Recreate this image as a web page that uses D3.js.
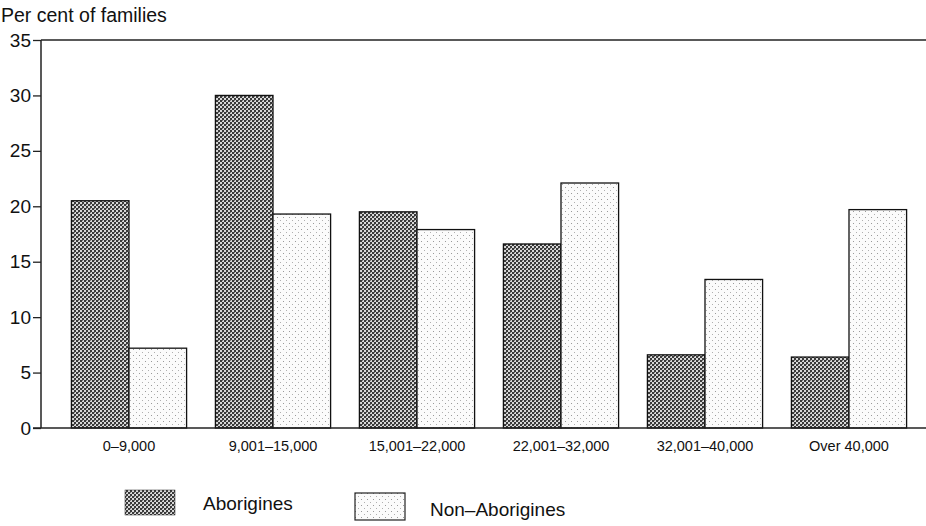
<!DOCTYPE html>
<html><head><meta charset="utf-8">
<script src="https://cdn.jsdelivr.net/npm/d3@7"></script>
<style>body{margin:0;background:#fff}svg{display:block}text{font-family:"Liberation Sans",Arial,sans-serif;fill:#111}</style>
</head><body><svg id="c" width="926" height="526"></svg>
<script>
const categories = ["0–9,000","9,001–15,000","15,001–22,000","22,001–32,000","32,001–40,000","Over 40,000"];
const aborigines = [20.5, 30.0, 19.5, 16.6, 6.6, 6.4];
const nonAborigines = [7.2, 19.3, 17.9, 22.1, 13.4, 19.7];
const seriesNames = ["Aborigines","Non–Aborigines"];
const yTicks = [0,5,10,15,20,25,30,35];

const svg = d3.select("#c");
const defs = svg.append("defs");
const p1 = defs.append("pattern").attr("id","pA").attr("width",4).attr("height",4).attr("patternUnits","userSpaceOnUse");
p1.append("rect").attr("width",4).attr("height",4).attr("fill","#d8d8d8");
p1.append("rect").attr("width",2).attr("height",2).attr("fill","#3a3a3a");
p1.append("rect").attr("x",2).attr("y",2).attr("width",2).attr("height",2).attr("fill","#3a3a3a");
p1.append("rect").attr("x",2).attr("y",0).attr("width",1).attr("height",1).attr("fill","#777");
const p2 = defs.append("pattern").attr("id","pN").attr("width",6).attr("height",6).attr("patternUnits","userSpaceOnUse");
p2.append("rect").attr("width",6).attr("height",6).attr("fill","#fbfbfb");
p2.append("rect").attr("x",1).attr("y",1).attr("width",1).attr("height",1).attr("fill","#9a9a9a");
p2.append("rect").attr("x",4).attr("y",4).attr("width",1).attr("height",1).attr("fill","#b0b0b0");

const x0 = d3.scaleBand().domain(categories).range([57,921]).paddingInner(0.2).paddingOuter(0.1);
const x1 = d3.scaleBand().domain(seriesNames).range([0,x0.bandwidth()]);
const y = d3.scaleLinear().domain([0,35]).range([428,40]);

// top line
svg.append("line").attr("x1",41).attr("x2",926).attr("y1",y(35)).attr("y2",y(35)).attr("stroke","#222").attr("stroke-width",1.5);

const data = categories.map((c,i)=>({c, vals:[aborigines[i], nonAborigines[i]]}));
const g = svg.append("g");
data.forEach(d=>{
  d.vals.forEach((v,j)=>{
    g.append("rect").attr("x",x0(d.c)+x1(seriesNames[j])).attr("y",y(v))
     .attr("width",x1.bandwidth()).attr("height",y(0)-y(v))
     .attr("fill",j===0?"url(#pA)":"url(#pN)").attr("stroke","#111").attr("stroke-width",1.3);
  });
});

// y axis
const ya = svg.append("g").attr("transform","translate(41,0)")
  .call(d3.axisLeft(y).tickValues(yTicks).tickSize(8).tickPadding(2).tickFormat(d3.format("d")));
ya.select(".domain").attr("stroke","#222").attr("stroke-width",1.5).attr("d","M0,"+y(35)+"V"+y(0));
ya.selectAll(".tick line").attr("stroke","#222").attr("stroke-width",1.3);
ya.selectAll(".tick text").style("font-size","19px").attr("fill","#111");
// baseline
svg.append("line").attr("x1",33).attr("x2",926).attr("y1",y(0)).attr("y2",y(0)).attr("stroke","#222").attr("stroke-width",1.5);

// x labels
const xa = svg.append("g").attr("transform","translate(0,"+y(0)+")")
  .call(d3.axisBottom(x0).tickSize(0).tickPadding(13));
xa.select(".domain").remove();
xa.selectAll(".tick text").style("font-size","14.5px").attr("fill","#111");

svg.append("text").attr("x",1).attr("y",22).style("font-size","19.5px").text("Per cent of families");

// legend
const leg = [{x:125,y:490,w:50,h:25,tx:203,ty:510},{x:355,y:493,w:50,h:27,tx:430,ty:516}];
leg.forEach((l,i)=>{
  svg.append("rect").attr("x",l.x).attr("y",l.y).attr("width",l.w).attr("height",l.h)
    .attr("fill",i===0?"url(#pA)":"url(#pN)").attr("stroke","#222").attr("stroke-width",i===0?0.5:1.2);
  svg.append("text").attr("x",l.tx).attr("y",l.ty).style("font-size","19px").text(seriesNames[i]);
});
</script></body></html>
